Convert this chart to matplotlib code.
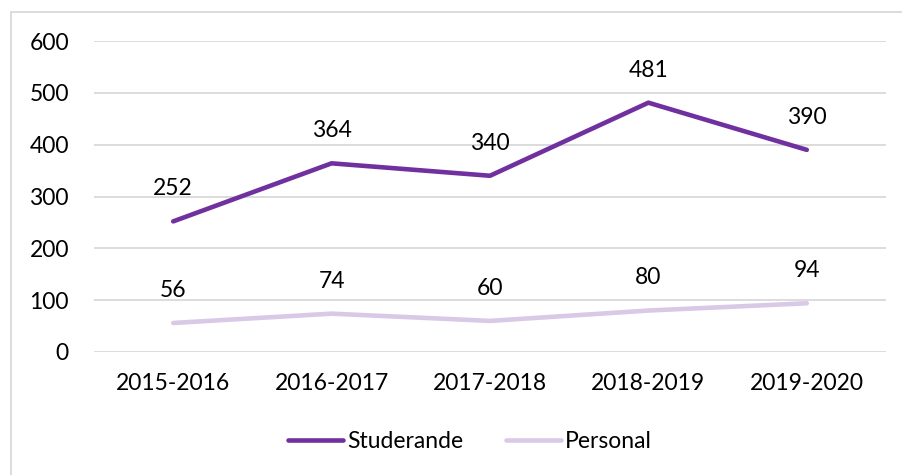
import matplotlib
matplotlib.use("Agg")
import matplotlib.pyplot as plt
from matplotlib.patches import Rectangle

years = ["2015-2016", "2016-2017", "2017-2018", "2018-2019", "2019-2020"]
studerande = [252, 364, 340, 481, 390]
personal = [56, 74, 60, 80, 94]
yticks = [0, 100, 200, 300, 400, 500, 600]

plt.rcParams["font.family"] = ["Lato", "DejaVu Sans"]

W, H = 902, 475
FS = 16.5
fig = plt.figure(figsize=(W / 100, H / 100), dpi=100)
ax = fig.add_axes([94 / W, 1 - 352 / H, (886 - 94) / W, (352 - 41) / H])

# chart frame (cut off at right/bottom in the reference)
fig.patches.append(Rectangle((10.5 / W, -0.1), 1.2, (H - 12) / H + 0.1,
                             transform=fig.transFigure, fill=False,
                             edgecolor="#D9D9D9", lw=1.3))

x = range(len(years))
series = [("Studerande", studerande, "#7030A0"),
          ("Personal", personal, "#D9C9E6")]
for name, vals, col in series:
    ax.plot(x, vals, color=col, lw=3.3, solid_capstyle="round", label=name, zorder=3)
    for xi, v in zip(x, vals):
        ax.annotate(str(v), (xi, v), xytext=(0, 23.5), textcoords="offset points",
                    ha="center", va="center", fontsize=FS, color="#000000")

ax.set_xlim(-0.5, len(years) - 0.5)
ax.set_ylim(0, 600)
ax.set_yticks(yticks)
ax.set_xticks(list(x))
ax.set_xticklabels(years)
ax.tick_params(axis="both", length=0, labelsize=FS, colors="#000000")
ax.tick_params(axis="y", pad=18)
ax.tick_params(axis="x", pad=15)
ax.grid(axis="y", color="#D9D9D9", lw=1.3)
ax.set_axisbelow(True)
for s in ax.spines.values():
    s.set_visible(False)

fig.legend(loc="center", bbox_to_anchor=(470 / W, 1 - 442 / H), ncol=2,
           frameon=False, fontsize=FS, handlelength=2.4, handletextpad=0.15,
           columnspacing=1.9)

fig.savefig("out.png", dpi=100)
